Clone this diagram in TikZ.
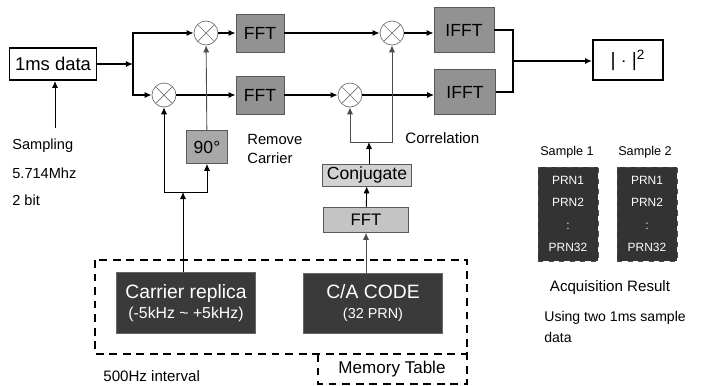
\documentclass[tikz,border=0pt]{standalone}
\usepackage{fontspec}
\setmainfont{Liberation Sans}
\usetikzlibrary{arrows.meta}

\definecolor{midgray}{HTML}{929292}
\definecolor{litgray}{HTML}{C4C4C4}
\definecolor{palegray}{HTML}{D2D2D2}
\definecolor{darkbox}{HTML}{3A3A3A}

\begin{document}
\begin{tikzpicture}[x=0.02cm,y=-0.02cm,
    fs/.style={font=\fontsize{#1}{#1}\selectfont},
    blk/.style={draw=black!65,fill=midgray,inner sep=0pt,fs=10},
    memblk/.style={draw=black!60,fill=darkbox,text=white,inner sep=0pt,align=center},
    mult/.style={draw=black!55,fill=white,circle,minimum size=0.48cm,inner sep=0pt,
      path picture={\draw[black!55]
        (path picture bounding box.north west)--(path picture bounding box.south east)
        (path picture bounding box.south west)--(path picture bounding box.north east);}},
    prnbox/.style={draw=black!70,dashed,fill=black!80,text=white,inner sep=0pt,
      minimum width=1.2cm,minimum height=1.88cm,align=center,font=\fontsize{6.8}{12.6}\selectfont},
    txt/.style={inner sep=0pt,anchor=west},
    sig/.style={line width=1.1pt,-{Latex[length=4pt,width=3.5pt]}},
    sigline/.style={line width=1.1pt},
    fb/.style={line width=0.5pt,-{Latex[length=4pt,width=3.5pt]}},
    fbline/.style={line width=0.5pt},
    memline/.style={line width=1.2pt,dash pattern=on 4.5pt off 3.2pt}]
\useasboundingbox (0,0) rectangle (701,386);

% input and front end
\node[draw,line width=1.1pt,minimum width=1.74cm,minimum height=0.64cm,inner sep=0pt,fs=10.5] (data) at (53,64) {1ms data};
\coordinate (split) at (133,64);
\node[mult] (m1) at (206,33) {};
\node[mult] (m2) at (164,95) {};
\node[blk,minimum width=0.96cm,minimum height=0.76cm] (fft1) at (260,33) {FFT};
\node[blk,minimum width=0.96cm,minimum height=0.76cm] (fft2) at (260,95) {FFT};
\node[blk,fill=midgray!80,minimum width=0.82cm,minimum height=0.66cm] (deg) at (207,147) {90°};
\node[txt,fs=8.4] (rem) at (247,139) {Remove};
\node[txt,fs=8.4] (car) at (247,158) {Carrier};

\node[txt,fs=8.3] (samp) at (12,146) {Sampling};
\node[txt,fs=8.3] (rate) at (12,173) {5.714Mhz};
\node[txt,fs=8.3] (bits) at (12,200) {2 bit};
\coordinate (sampin) at (55,128);

% correlation
\node[mult] (c1) at (392,33) {};
\node[mult] (c2) at (350,95) {};
\node[blk,minimum width=1.2cm,minimum height=0.9cm] (ifft1) at (464,30) {IFFT};
\node[blk,minimum width=1.22cm,minimum height=0.9cm] (ifft2) at (465,92) {IFFT};
\node[txt,fs=8.6] (corr) at (405,138) {Correlation};
\node[blk,fill=palegray,minimum width=1.78cm,minimum height=0.44cm,fs=10] (conj) at (367,175) {Conjugate};
\node[blk,fill=litgray,minimum width=1.7cm,minimum height=0.5cm,fs=9.5] (fftc) at (366,220) {FFT};
\coordinate (cj) at (369,142);
\coordinate (join) at (513,61);
\node[draw,line width=1.1pt,minimum width=1.4cm,minimum height=0.8cm,inner sep=0pt,fs=11] (abs) at (628,60) {| $\cdot$ |\textsuperscript{2}};

% memory
\node[memblk,minimum width=2.78cm,minimum height=1.22cm] (rep) at (186,303)
  {{\fontsize{11}{12}\selectfont Carrier replica}\\[-1pt]{\fontsize{9}{10}\selectfont (-5kHz \textasciitilde\ +5kHz)}};
\node[memblk,minimum width=2.78cm,minimum height=1.2cm] (ca) at (373,303)
  {{\fontsize{11}{12}\selectfont C/A CODE}\\[-1pt]{\fontsize{8.2}{9}\selectfont (32 PRN)}};
\coordinate (lo) at (183,192);
\draw[memline] (95,260) rectangle (467,354);
\draw[memline] (318,354) -- (318,384) -- (467,384) -- (467,354);
\node[fs=9.7] (mem) at (392,369) {Memory Table};
\node[txt,fs=8.6] (step) at (103,376) {500Hz interval};

% result
\node[fs=7.2] (s1) at (567,152) {Sample 1};
\node[fs=7.2] (s2) at (645,152) {Sample 2};
\node[prnbox] (p1) at (568,214) {PRN1\\PRN2\\:\\PRN32};
\node[prnbox] (p2) at (647,214) {PRN1\\PRN2\\:\\PRN32};
\node[fs=8.6] (acq) at (610,288) {Acquisition Result};
\node[txt,fs=8] (use1) at (544,318) {Using two 1ms sample};
\node[txt,fs=8] (use2) at (544,337) {data};

% connectors
\draw[sig] (data) -- (split);
\draw[sig] (split) |- (m1);
\draw[sig] (split) |- (m2);
\draw[sig] (m1) -- (fft1);
\draw[sig] (m2) -- (fft2);
\draw[sig] (fft1) -- (c1);
\draw[sig] (fft2) -- (c2);
\draw[sig] (c1) -- (c1 -| ifft1.west);
\draw[sig] (c2) -- (c2 -| ifft2.west);
\draw[sigline] (ifft1.east) -| (join);
\draw[sigline] (ifft2.east) -| (join);
\draw[sig] (join) -- (join -| abs.west);
\draw[fb] (sampin) -- (data.south -| sampin);
\draw[fb,black!70] (deg) -- (m1);
\draw[fb] (rep.north -| lo) -- (lo);
\draw[fb] (lo) -| (m2);
\draw[fb] (lo) -| (deg);
\draw[fb,black!70] (ca.north -| fftc) -- (fftc);
\draw[fb] (fftc) -- (conj);
\draw[fb] (conj.north -| cj) -- (cj);
\draw[fb,black!70] (cj) -| (c2);
\draw[fb,black!70] (cj) -| (c1);
\end{tikzpicture}
\end{document}
